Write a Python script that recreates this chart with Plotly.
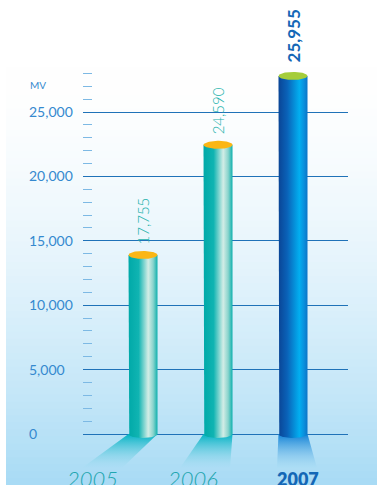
import numpy as np
import plotly.graph_objects as go

# ---------------- data ----------------
categories = ["2005", "2006", "2007"]
bar_heights = [13900, 22450, 27800]          # drawn heights
value_labels = ["17,755", "24,590", "25,955"]  # printed values
y_tickvals = [0, 5000, 10000, 15000, 20000, 25000]
unit_label = "MV"

# ---------------- styling ----------------
W, H = 377, 485
PX_X = 75.0            # px per category step
K = 0.01288            # px per unit on y
Y0_PIX = 434           # pixel row of y=0
X0_PIX = 143           # pixel column of the first category
DOM_X = (83, 348)
Y_TOP_VAL = 29000

xr = [(DOM_X[0] - X0_PIX) / PX_X, (DOM_X[1] - X0_PIX) / PX_X]
y_bot_val = -(H - Y0_PIX) / K
yr = [y_bot_val, Y_TOP_VAL]
y_dom_top = (H - (Y0_PIX - Y_TOP_VAL * K)) / H

hw = 14.5 / PX_X
ry = 4.0 / K

teal_scale = [[0, "#00a9a8"], [0.35, "#10b4b2"], [0.68, "#d3ede6"],
              [0.85, "#8ad4cd"], [1, "#0eb0ad"]]
blue_scale = [[0, "#0a4596"], [0.3, "#0a62b8"], [0.72, "#02aef0"],
              [0.88, "#0a8fdc"], [1, "#0b74c6"]]
body_scales = [teal_scale, teal_scale, blue_scale]
top_colors = ["#fbb615", "#fbb615", "#a5cd39"]
shadow_scales = [
    [[0, "rgba(170,222,244,0.2)"], [1, "#00b2c2"]],
    [[0, "rgba(170,222,244,0.2)"], [1, "#00b2c2"]],
    [[0, "rgba(170,222,244,0.3)"], [1, "#0f80d6"]],
]
# shadow bottom edge offsets (px) relative to category centre
shadow_dx = [(-61, -21), (-38, 12), (-16, 24)]
shadow_bottom_val = -(468 - Y0_PIX) / K

label_fonts = [
    dict(family="Lato", size=15, color="#25b2ac", weight=300),
    dict(family="Lato", size=15, color="#25b2ac", weight=300),
    dict(family="Lato", size=17, color="#1467b6", weight=700),
]
year_fonts = [
    dict(family="Lato", size=22, color="#1fa6b0", weight=300, style="italic"),
    dict(family="Lato", size=22, color="#1fa6b0", weight=300, style="italic"),
    dict(family="Lato", size=18, color="#1467b6", weight=800),
]
year_shift = [-51, -25, 5]

fig = go.Figure()

# background gradient panel (bands)
n_bands = 60
top_pix, left_pix = 67, 6
c_top = np.array([255, 255, 255])
c_bot = np.array([168, 219, 245])
for i in range(n_bands):
    y_a = top_pix + (H - top_pix) * i / n_bands
    y_b = top_pix + (H - top_pix) * (i + 1) / n_bands + 1.0
    t = ((i + 0.5) / n_bands) ** 1.6
    c = (c_top + (c_bot - c_top) * t).astype(int)
    fig.add_shape(type="rect", xref="paper", yref="paper",
                  x0=left_pix / W, x1=1, y0=max(0, 1 - y_b / H), y1=1 - y_a / H,
                  fillcolor="rgb(%d,%d,%d)" % tuple(c), line_width=0, layer="below")

th = np.linspace(0, np.pi, 40)
th_full = np.linspace(0, 2 * np.pi, 80)

for i, (cat, v) in enumerate(zip(categories, bar_heights)):
    xc = i
    # shadow / reflection
    dl, dr = shadow_dx[i]
    sx = [xc - hw, xc + hw, xc + dr / PX_X, xc + dl / PX_X, xc - hw]
    sy = [0, 0, shadow_bottom_val, shadow_bottom_val, 0]
    fig.add_trace(go.Scatter(x=sx, y=sy, mode="lines", fill="toself",
                             line=dict(width=0), hoverinfo="skip",
                             fillgradient=dict(type="vertical", colorscale=shadow_scales[i]),
                             showlegend=False))
    # cylinder body
    bx = [xc - hw, xc - hw] + list(xc - hw * np.cos(th)) + [xc + hw, xc + hw]
    by = [v, 0] + list(-ry * np.sin(th)) + [0, v]
    fig.add_trace(go.Scatter(x=bx, y=by, mode="lines", fill="toself",
                             line=dict(width=0), hoverinfo="skip",
                             fillgradient=dict(type="horizontal", colorscale=body_scales[i]),
                             showlegend=False, name=cat))
    # top ellipse
    tx = xc + hw * np.cos(th_full)
    ty = v + ry * np.sin(th_full)
    fig.add_trace(go.Scatter(x=tx, y=ty, mode="lines", fill="toself",
                             line=dict(width=0), fillcolor=top_colors[i],
                             hoverinfo="skip", showlegend=False))
    # value label
    fig.add_annotation(x=xc, y=v, xref="x", yref="y", text=value_labels[i],
                       textangle=-90, showarrow=False, yanchor="bottom",
                       yshift=8 if i < 2 else 11, font=label_fonts[i])
    # year label
    fig.add_annotation(x=xc, y=0, xref="x", yref="y", text=cat, showarrow=False,
                       yanchor="middle", yshift=-45, xshift=year_shift[i],
                       font=year_fonts[i])

# green dots at major ticks
fig.add_trace(go.Scatter(x=[xr[0] - 0.013] * len(y_tickvals), y=y_tickvals,
                         mode="markers", marker=dict(size=5, color="#8cc63f"),
                         cliponaxis=False, hoverinfo="skip", showlegend=False))

minor_vals = [v for v in range(1000, Y_TOP_VAL + 1, 1000) if v % 5000 != 0]

fig.update_layout(
    width=W, height=H,
    margin=dict(l=0, r=0, t=0, b=0, autoexpand=False),
    paper_bgcolor="white", plot_bgcolor="rgba(0,0,0,0)",
    showlegend=False,
    xaxis=dict(domain=[DOM_X[0] / W, DOM_X[1] / W], range=xr,
               showgrid=False, zeroline=False, showticklabels=False,
               ticks="", showline=False, fixedrange=True, automargin=False),
    yaxis=dict(domain=[0, y_dom_top], range=yr, tickvals=y_tickvals,
               showgrid=True, gridcolor="#1f72b8", gridwidth=1.3,
               zeroline=False, showline=False, showticklabels=False,
               ticks="inside", ticklen=0, automargin=False,
               minor=dict(tickvals=minor_vals, ticks="inside", ticklen=9,
                          tickcolor="#7db9e4", tickwidth=1.2, showgrid=False),
               fixedrange=True),
    yaxis2=dict(domain=[0, y_dom_top], range=yr, overlaying="y", anchor="free",
                position=28 / W, side="right", tickvals=y_tickvals,
                tickformat=",d", showgrid=False, zeroline=False, showline=False,
                ticks="", automargin=False,
                tickfont=dict(family="Lato", size=14, color="#3589cf", weight=400),
                fixedrange=True),
)
# dummy trace to activate yaxis2
fig.add_trace(go.Scatter(x=[None], y=[None], yaxis="y2", showlegend=False, hoverinfo="skip"))

fig.add_annotation(x=28 / W, y=1 - 85 / H, xref="paper", yref="paper",
                   text=unit_label, showarrow=False, xanchor="left", yanchor="middle",
                   font=dict(family="Lato", size=10, color="#3589cf"))

fig.write_html("out.html", config={"displayModeBar": False},
               post_script="document.body.style.margin='0';document.body.style.overflow='hidden';")
